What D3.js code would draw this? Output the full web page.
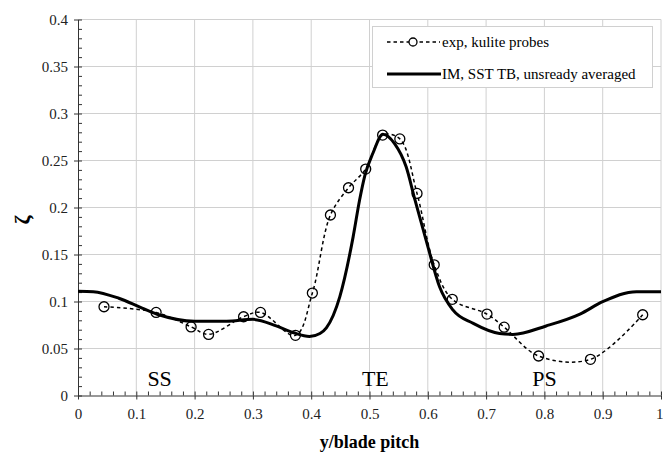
<!DOCTYPE html>
<html>
<head>
<meta charset="utf-8">
<script src="https://cdn.jsdelivr.net/npm/d3@7"></script>
<style>
  body { margin: 0; background: #fff; }
  svg text { font-family: "Liberation Serif", "DejaVu Serif", serif !important; }
</style>
</head>
<body>
<script>
// données
const expX = [0.0446, 0.134, 0.194, 0.224, 0.284, 0.313, 0.373, 0.402, 0.433, 0.464, 0.4935,
  0.5225, 0.552, 0.5815, 0.611, 0.642, 0.7015, 0.731, 0.790, 0.879, 0.9686]
const expY = [0.0944, 0.0884, 0.073, 0.065, 0.0838, 0.0884, 0.064, 0.109, 0.192, 0.221, 0.2409,
  0.277, 0.273, 0.215, 0.139, 0.1023, 0.0866, 0.0727, 0.042, 0.0385, 0.0859]

const cfdX = [0, 0.026, 0.07, 0.11, 0.14, 0.2, 0.255, 0.3, 0.34, 0.37, 0.397, 0.415, 0.426, 0.449,
  0.472, 0.483, 0.492, 0.506, 0.523, 0.543, 0.563, 0.578, 0.6, 0.62, 0.643, 0.678, 0.723, 0.746,
  0.803, 0.861, 0.9, 0.958, 1.0]
const cfdY = [0.111, 0.1105, 0.1035, 0.093, 0.0856, 0.079, 0.079, 0.081, 0.074, 0.0667, 0.0628, 0.066,
  0.072, 0.105, 0.169, 0.208, 0.234, 0.258, 0.278, 0.268, 0.243, 0.208, 0.1586, 0.116, 0.091, 0.0767,
  0.066, 0.065, 0.074, 0.0866, 0.0998, 0.1105, 0.1105]

const xTicks = d3.range(0, 1.0001, 0.1)
const yTicks = d3.range(0, 0.4001, 0.05)
const xMinor = d3.range(0, 1.0001, 0.02)
const yMinor = d3.range(0, 0.4001, 0.01)

const regions = [{ label: "SS", x: 0.14 }, { label: "TE", x: 0.51 }, { label: "PS", x: 0.8 }]
const legendLabels = ["exp, kulite probes", "IM, SST TB, unsready averaged"]

const W = 663, H = 454
const serif = "Liberation Serif"

const svg = d3.select("body").append("svg")
  .attr("width", W)
  .attr("height", H)
  .attr("font-family", serif)

const x = d3.scaleLinear().domain([0, 1]).range([78, 661])
const y = d3.scaleLinear().domain([0, 0.4]).range([395.5, 19.5])

// grille
svg.append("g").selectAll("line")
  .data(xTicks.slice(1))
  .join("line")
  .attr("x1", d => x(d)).attr("x2", d => x(d))
  .attr("y1", y(0)).attr("y2", y(0.4))
  .attr("stroke", "#d0d0d0").attr("stroke-width", 1)

svg.append("g").selectAll("line")
  .data(yTicks.slice(1))
  .join("line")
  .attr("x1", x(0)).attr("x2", x(1))
  .attr("y1", d => y(d)).attr("y2", d => y(d))
  .attr("stroke", "#d0d0d0").attr("stroke-width", 1)

// axes
const fmt = d => String(+d.toFixed(2))

const xAxis = svg.append("g")
  .attr("transform", `translate(0,${y(0)})`)
  .call(d3.axisBottom(x).tickValues(xTicks).tickSize(4).tickSizeOuter(0).tickPadding(9).tickFormat(fmt))
  .attr("font-family", serif)
xAxis.append("g").call(d3.axisTop(x).tickValues(xMinor).tickSize(4).tickSizeOuter(0).tickFormat(""))
  .select(".domain").remove()
// le "1" final reste dans la fenêtre
xAxis.selectAll(".tick text").filter(d => d === 1 || d > 0.99)
  .attr("text-anchor", "end").attr("dx", "2")

const yAxis = svg.append("g")
  .attr("transform", `translate(${x(0)},0)`)
  .call(d3.axisLeft(y).tickValues(yTicks).tickSize(4).tickSizeOuter(0).tickPadding(6).tickFormat(fmt))
  .attr("font-family", serif)
yAxis.append("g").call(d3.axisRight(y).tickValues(yMinor).tickSize(4).tickSizeOuter(0).tickFormat(""))
  .select(".domain").remove()

svg.selectAll(".tick text")
  .attr("font-family", serif)
  .attr("font-size", 15)
  .attr("fill", "#222")
svg.selectAll(".domain, .tick line").attr("stroke", "#333")

// courbes
const line = d3.line()
  .x(d => x(d[0]))
  .y(d => y(d[1]))

const cfd = cfdX.map((v, i) => [v, cfdY[i]])
const exp = expX.map((v, i) => [v, expY[i]])

svg.append("path")
  .datum(exp)
  .attr("d", line.curve(d3.curveCatmullRom.alpha(0.5)))
  .attr("fill", "none")
  .attr("stroke", "#000")
  .attr("stroke-width", 1.5)
  .attr("stroke-dasharray", "3.5,3")

svg.append("path")
  .datum(cfd)
  .attr("d", line.curve(d3.curveMonotoneX))
  .attr("fill", "none")
  .attr("stroke", "#000")
  .attr("stroke-width", 3)

svg.append("g").selectAll("circle")
  .data(exp)
  .join("circle")
  .attr("cx", d => x(d[0]))
  .attr("cy", d => y(d[1]))
  .attr("r", 5)
  .attr("fill", "none")
  .attr("stroke", "#000")
  .attr("stroke-width", 1.3)

// étiquettes SS / TE / PS
svg.append("g").selectAll("text")
  .data(regions)
  .join("text")
  .attr("x", d => x(d.x))
  .attr("y", 386)
  .attr("text-anchor", "middle")
  .attr("font-family", serif)
  .attr("font-size", 22)
  .text(d => d.label)

// titres
svg.append("text")
  .attr("x", x(0.5))
  .attr("y", 448)
  .attr("text-anchor", "middle")
  .attr("font-family", serif)
  .attr("font-size", 18)
  .attr("font-weight", "bold")
  .text("y/blade pitch")

svg.append("text")
  .attr("transform", "translate(30,220) rotate(-90)")
  .attr("text-anchor", "middle")
  .attr("font-family", serif)
  .attr("font-size", 22)
  .attr("font-weight", "bold")
  .text("ζ")

// légende
const legend = svg.append("g")
legend.append("rect")
  .attr("x", 372.5).attr("y", 26.5)
  .attr("width", 280).attr("height", 61)
  .attr("fill", "#fff")
  .attr("stroke", "#d0d0d0")

legend.append("line")
  .attr("x1", 387).attr("x2", 440)
  .attr("y1", 42).attr("y2", 42)
  .attr("stroke", "#000").attr("stroke-width", 1.5)
  .attr("stroke-dasharray", "3.5,3")
legend.append("circle")
  .attr("cx", 413).attr("cy", 42).attr("r", 4)
  .attr("fill", "#fff").attr("stroke", "#000").attr("stroke-width", 1.3)
legend.append("line")
  .attr("x1", 387).attr("x2", 441)
  .attr("y1", 74).attr("y2", 74)
  .attr("stroke", "#000").attr("stroke-width", 3)

legend.selectAll("text.lab")
  .data(legendLabels)
  .join("text")
  .attr("class", "lab")
  .attr("x", 442)
  .attr("y", (d, i) => 47 + i * 32)
  .attr("font-family", serif)
  .attr("font-size", 15)
  .text(d => d)
</script>
</body>
</html>
